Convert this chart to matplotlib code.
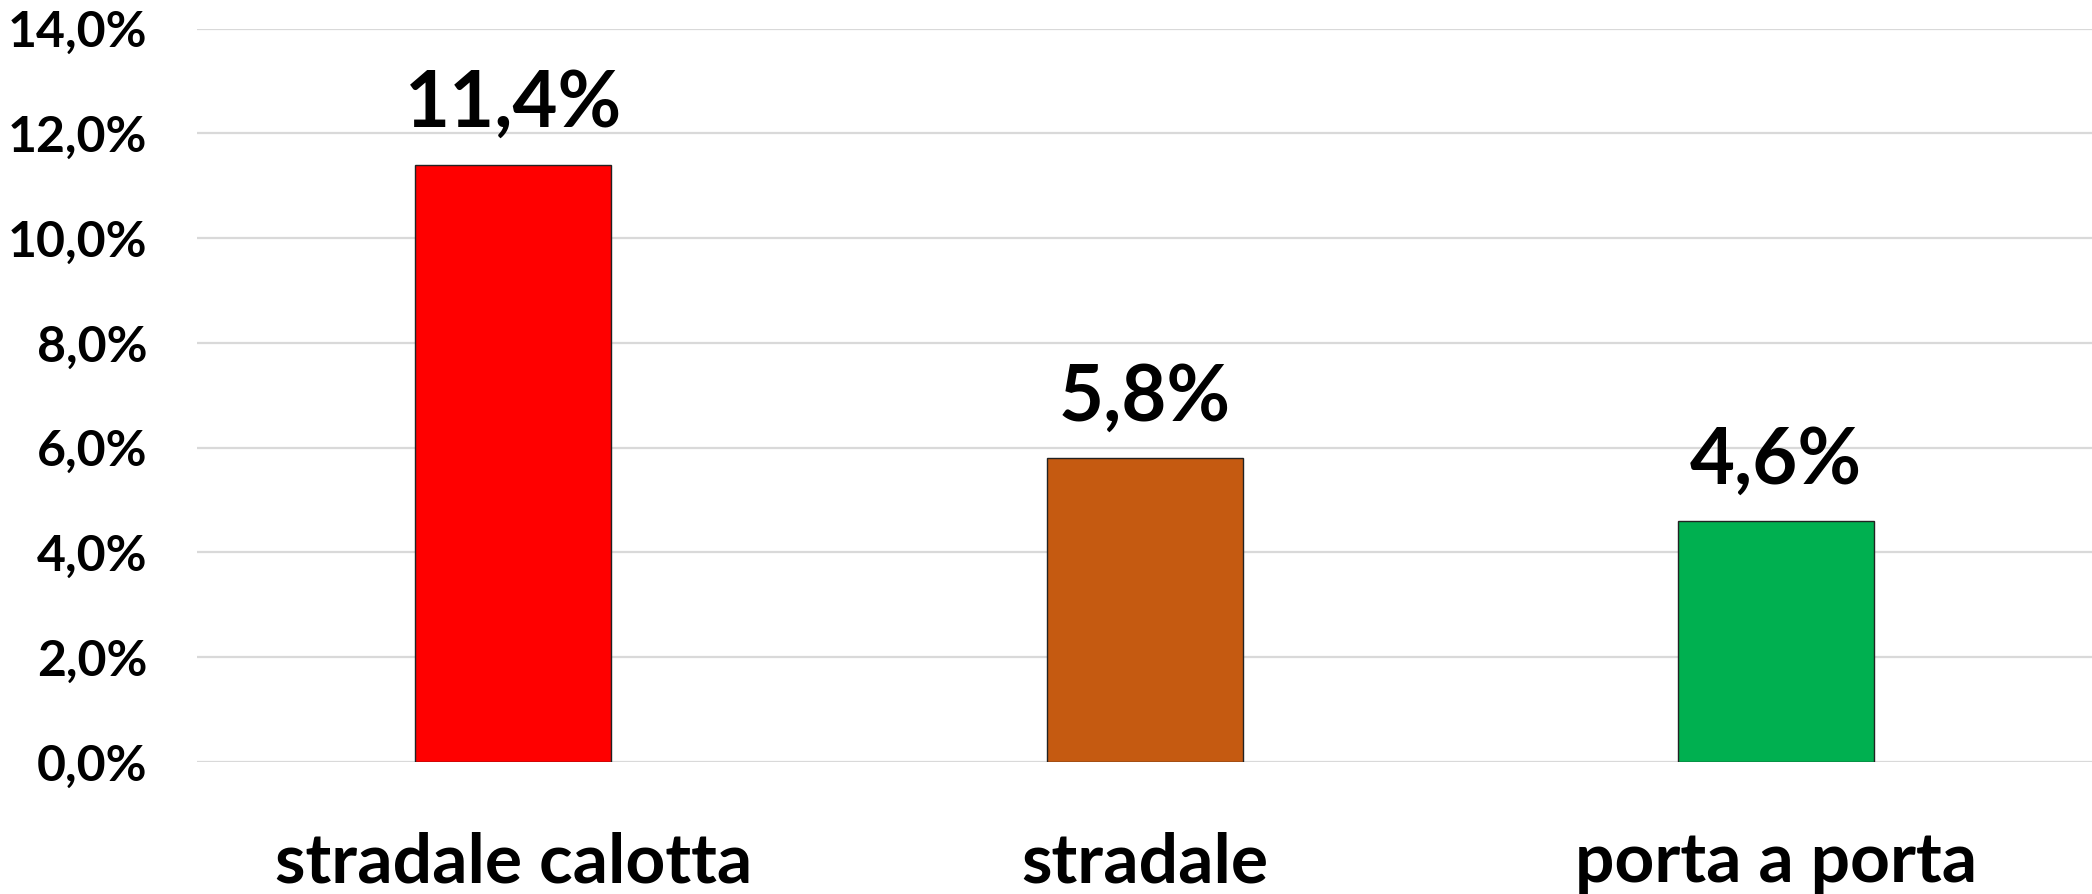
"""
Bar chart with three categories, percent labels with comma decimals.
"""
import matplotlib.pyplot as plt
from matplotlib.ticker import FuncFormatter

categories = ['stradale calotta', 'stradale', 'porta a porta']
values = [11.4, 5.8, 4.6]
colors = ['#FF0000', '#C55A11', '#00B050']
yticks = [0, 2, 4, 6, 8, 10, 12, 14]

plt.rcParams['font.family'] = ['Lato', 'DejaVu Sans']
plt.rcParams['font.weight'] = 'bold'

fig = plt.figure(figsize=(20.92, 8.94), dpi=100)
ax = fig.add_axes([0.0944, 0.1478, 0.9056, 0.8202])

x = range(len(categories))
bars = ax.bar(x, values, width=0.31, color=colors, edgecolor='#222222', linewidth=1, zorder=3)

# value labels above the bars
for b, v in zip(bars, values):
    ax.annotate(f'{v:.1f}%'.replace('.', ','),
                xy=(b.get_x() + b.get_width() / 2, v),
                xytext=(0, 17), textcoords='offset points',
                ha='center', va='bottom', fontsize=56, fontweight='bold')

ax.set_xlim(-0.5, 2.5)
ax.set_ylim(0, 14)
ax.set_yticks(yticks)
ax.yaxis.set_major_formatter(FuncFormatter(lambda v, p: f'{v:.1f}%'.replace('.', ',')))
ax.set_xticks(list(x))
ax.set_xticklabels(categories, fontsize=50, fontweight='bold')

ax.tick_params(axis='y', length=0, pad=36, labelsize=36)
ax.tick_params(axis='x', length=0, pad=50)
for lab in ax.get_yticklabels():
    lab.set_fontweight('bold')

ax.grid(axis='y', color='#D9D9D9', linewidth=1.6, zorder=0)
for s in ax.spines.values():
    s.set_visible(False)

fig.savefig('out.png', dpi=100)
